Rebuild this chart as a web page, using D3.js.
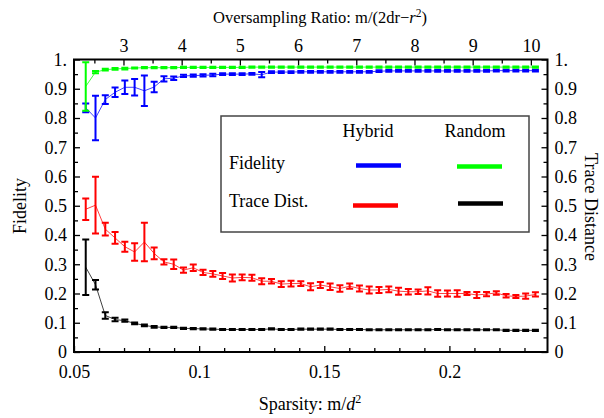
<!DOCTYPE html>
<html>
<head>
<meta charset="utf-8">
<script src="https://cdn.jsdelivr.net/npm/d3@7"></script>
<style>
body { margin: 0; background: #fff; }
text { font-family: "Liberation Serif", "Times New Roman", serif; }
</style>
</head>
<body>
<script>
// number of measurements m, sparsity is m/dim^2
const dim = 16;
const mValues = [14, 15, 16, 17, 18, 19, 20, 21, 22, 23, 24, 25, 26, 27, 28, 29, 30, 31, 32, 33,
   34, 35, 36, 37, 38, 39, 40, 41, 42, 43, 44, 45, 46, 47, 48, 49, 50, 51, 52, 53,
   54, 55, 56, 57, 58, 59, 60];

const hybridFid = [0.835, 0.800, 0.863, 0.888, 0.905, 0.905, 0.893, 0.906, 0.934, 0.936,
   0.944, 0.945, 0.946, 0.947, 0.950, 0.950, 0.950, 0.951, 0.948, 0.957,
   0.957, 0.957, 0.958, 0.958, 0.958, 0.958, 0.958, 0.958, 0.958, 0.958,
   0.960, 0.961, 0.961, 0.961, 0.961, 0.961, 0.961, 0.961, 0.961, 0.961,
   0.961, 0.961, 0.962, 0.962, 0.962, 0.962, 0.962];
const hybridFidErr = [0.015, 0.076, 0.015, 0.016, 0.023, 0.028, 0.052, 0.018, 0.009, 0.006,
   0.004, 0.004, 0.004, 0.004, 0.003, 0.003, 0.003, 0.003, 0.009, 0.003,
   0.003, 0.003, 0.003, 0.003, 0.003, 0.003, 0.003, 0.003, 0.003, 0.003,
   0.003, 0.003, 0.003, 0.003, 0.003, 0.003, 0.003, 0.003, 0.003, 0.003,
   0.003, 0.003, 0.003, 0.003, 0.003, 0.003, 0.003];

const randomFid = [0.908, 0.957, 0.965, 0.968, 0.969, 0.971, 0.972, 0.972, 0.972, 0.972,
   0.973, 0.973, 0.973, 0.973, 0.973, 0.973, 0.973, 0.974, 0.974, 0.974,
   0.974, 0.974, 0.974, 0.974, 0.974, 0.974, 0.974, 0.974, 0.974, 0.974,
   0.974, 0.974, 0.974, 0.974, 0.974, 0.974, 0.974, 0.974, 0.974, 0.974,
   0.974, 0.974, 0.974, 0.974, 0.974, 0.974, 0.974];
const randomFidErr = [0.083, 0.004, 0.003, 0.003, 0.003, 0.002, 0.002, 0.002, 0.002, 0.002,
   0.002, 0.002, 0.002, 0.002, 0.002, 0.002, 0.002, 0.002, 0.002, 0.002,
   0.002, 0.002, 0.002, 0.002, 0.002, 0.002, 0.002, 0.002, 0.002, 0.002,
   0.002, 0.002, 0.002, 0.002, 0.002, 0.002, 0.002, 0.002, 0.002, 0.002,
   0.002, 0.002, 0.002, 0.002, 0.002, 0.002, 0.002];

const hybridTD = [0.488, 0.502, 0.420, 0.390, 0.360, 0.342, 0.376, 0.337, 0.308, 0.300,
   0.280, 0.288, 0.272, 0.267, 0.260, 0.253, 0.255, 0.254, 0.242, 0.242,
   0.232, 0.234, 0.234, 0.223, 0.229, 0.223, 0.217, 0.225, 0.217, 0.212,
   0.212, 0.214, 0.208, 0.206, 0.206, 0.209, 0.200, 0.200, 0.200, 0.200,
   0.195, 0.198, 0.202, 0.192, 0.190, 0.191, 0.197];
const hybridTDErr = [0.037, 0.097, 0.022, 0.020, 0.017, 0.030, 0.066, 0.020, 0.009, 0.016,
   0.009, 0.011, 0.009, 0.010, 0.010, 0.012, 0.010, 0.010, 0.010, 0.008,
   0.010, 0.010, 0.008, 0.012, 0.010, 0.011, 0.011, 0.009, 0.010, 0.012,
   0.010, 0.010, 0.012, 0.009, 0.008, 0.012, 0.011, 0.010, 0.011, 0.005,
   0.010, 0.007, 0.006, 0.006, 0.005, 0.009, 0.007];

const randomTD = [0.290, 0.230, 0.125, 0.111, 0.107, 0.098, 0.091, 0.086, 0.084, 0.084,
   0.081, 0.080, 0.079, 0.078, 0.077, 0.077, 0.077, 0.077, 0.077, 0.079,
   0.077, 0.077, 0.078, 0.078, 0.078, 0.078, 0.077, 0.077, 0.077, 0.076,
   0.076, 0.076, 0.076, 0.076, 0.076, 0.076, 0.077, 0.076, 0.076, 0.076,
   0.076, 0.076, 0.076, 0.074, 0.074, 0.074, 0.074];
const randomTDErr = [0.095, 0.016, 0.011, 0.006, 0.004, 0.003, 0.003, 0.003, 0.002, 0.002,
   0.002, 0.002, 0.002, 0.002, 0.002, 0.002, 0.002, 0.002, 0.002, 0.002,
   0.002, 0.002, 0.002, 0.002, 0.002, 0.002, 0.002, 0.002, 0.002, 0.002,
   0.002, 0.002, 0.002, 0.002, 0.002, 0.002, 0.002, 0.002, 0.002, 0.002,
   0.002, 0.002, 0.002, 0.002, 0.002, 0.002, 0.002];

const xMajor = [0.05, 0.1, 0.15, 0.2];
const yMajor = [0, 0.1, 0.2, 0.3, 0.4, 0.5, 0.6, 0.7, 0.8, 0.9, 1];
const topMajor = [3, 4, 5, 6, 7, 8, 9, 10];
// oversampling ratio per unit sparsity
const ratioFactor = 43;

const w = 604;
const h = 418;
const pLeft = 74, pRight = 547.5, pTop = 59.5, pBottom = 352;
const font = '"Liberation Serif", "Times New Roman", serif';

const sparsity = mValues.map(v => v / (dim * dim));

const svg = d3.select('body')
   .append('svg')
   .attr('width', w)
   .attr('height', h);

const x = d3.scaleLinear().domain([0.05, 0.2392]).range([pLeft, pRight]);
const xTop = d3.scaleLinear()
   .domain([0.05 * ratioFactor, 0.2392 * ratioFactor])
   .range([pLeft, pRight]);
const y = d3.scaleLinear().domain([0, 1]).range([pBottom, pTop]);

function styleAxis(g) {
   g.select('.domain').remove();
   g.selectAll('line').attr('stroke', '#000').attr('stroke-width', 1.3);
   g.selectAll('text').attr('font-family', font).attr('font-size', 18).attr('fill', '#000');
}

const yFmt = v => (v === 0 ? '0' : v === 1 ? '1.' : v.toFixed(1));

// minor ticks
const xMinor = d3.range(6, 24).map(v => v / 100).filter(v => !xMajor.some(t => Math.abs(t - v) < 1e-9));
const yMinor = d3.range(1, 20, 2).map(v => v / 20);
const topMinor = d3.range(2.5, 10.3, 1);

svg.append('g')
   .attr('transform', `translate(0,${pBottom})`)
   .call(d3.axisBottom(x).tickValues(xMinor).tickSize(-4).tickFormat(''))
   .call(styleAxis);
svg.append('g')
   .attr('transform', `translate(0,${pBottom})`)
   .call(d3.axisBottom(x).tickValues(xMajor).tickSize(-6).tickPadding(13).tickFormat(v => String(v)))
   .call(styleAxis);

svg.append('g')
   .attr('transform', `translate(0,${pTop})`)
   .call(d3.axisTop(xTop).tickValues(topMinor).tickSize(-4).tickFormat(''))
   .call(styleAxis);
svg.append('g')
   .attr('transform', `translate(0,${pTop})`)
   .call(d3.axisTop(xTop).tickValues(topMajor).tickSize(-6).tickPadding(8).tickFormat(v => String(v)))
   .call(styleAxis);

svg.append('g')
   .attr('transform', `translate(${pLeft},0)`)
   .call(d3.axisLeft(y).tickValues(yMinor).tickSize(-4).tickFormat(''))
   .call(styleAxis);
svg.append('g')
   .attr('transform', `translate(${pLeft},0)`)
   .call(d3.axisLeft(y).tickValues(yMajor).tickSize(-6).tickPadding(7).tickFormat(yFmt))
   .call(styleAxis);

svg.append('g')
   .attr('transform', `translate(${pRight},0)`)
   .call(d3.axisRight(y).tickValues(yMinor).tickSize(-4).tickFormat(''))
   .call(styleAxis);
svg.append('g')
   .attr('transform', `translate(${pRight},0)`)
   .call(d3.axisRight(y).tickValues(yMajor).tickSize(-6).tickPadding(7).tickFormat(yFmt))
   .call(styleAxis);

// frame
svg.append('rect')
   .attr('x', pLeft)
   .attr('y', pTop)
   .attr('width', pRight - pLeft)
   .attr('height', pBottom - pTop)
   .attr('fill', 'none')
   .attr('stroke', '#000')
   .attr('stroke-width', 2);

// series
const series = [
   { vals: hybridFid, err: hybridFidErr, color: '#0000ff' },
   { vals: randomFid, err: randomFidErr, color: '#00ff00' },
   { vals: hybridTD, err: hybridTDErr, color: '#ff0000' },
   { vals: randomTD, err: randomTDErr, color: '#000000' }
];

const line = d3.line()
   .x((v, i) => x(sparsity[i]))
   .y(v => y(v));

series.forEach(s => {
   const g = svg.append('g');
   g.append('path')
      .attr('d', line(s.vals))
      .attr('fill', 'none')
      .attr('stroke', s.color)
      .attr('stroke-opacity', 0.75)
      .attr('stroke-width', 1);
   g.selectAll('path.err')
      .data(s.vals)
      .enter()
      .append('path')
      .attr('class', 'err')
      .attr('d', (v, i) => {
         const cx = x(sparsity[i]);
         const y1 = y(v + s.err[i]);
         const y2 = y(v - s.err[i]);
         return `M${cx - 3.5},${y1}H${cx + 3.5}M${cx},${y1}V${y2}M${cx - 3.5},${y2}H${cx + 3.5}`;
      })
      .attr('fill', 'none')
      .attr('stroke', s.color)
      .attr('stroke-width', 2);
});

// legend
const leg = svg.append('g');
leg.append('rect')
   .attr('x', 221)
   .attr('y', 116)
   .attr('width', 308)
   .attr('height', 116)
   .attr('fill', '#fff')
   .attr('stroke', '#444')
   .attr('stroke-width', 1.5);
const legText = [
   { t: 'Hybrid', x: 368, y: 137, a: 'middle' },
   { t: 'Random', x: 475, y: 137, a: 'middle' },
   { t: 'Fidelity', x: 229, y: 169, a: 'start' },
   { t: 'Trace Dist.', x: 229, y: 207, a: 'start' }
];
leg.selectAll('text')
   .data(legText)
   .enter()
   .append('text')
   .attr('x', e => e.x)
   .attr('y', e => e.y)
   .attr('text-anchor', e => e.a)
   .attr('font-size', 18)
   .text(e => e.t);
const swatches = [
   { x1: 356, x2: 401, y: 165.5, c: '#0000ff' },
   { x1: 457, x2: 502, y: 166.5, c: '#00ff00' },
   { x1: 353, x2: 398, y: 205.5, c: '#ff0000' },
   { x1: 458, x2: 503, y: 203.5, c: '#000000' }
];
leg.selectAll('line')
   .data(swatches)
   .enter()
   .append('line')
   .attr('x1', e => e.x1)
   .attr('x2', e => e.x2)
   .attr('y1', e => e.y)
   .attr('y2', e => e.y)
   .attr('stroke', e => e.c)
   .attr('stroke-width', 4.5);

// axis titles
const topTitle = svg.append('text')
   .attr('x', 320)
   .attr('y', 23)
   .attr('text-anchor', 'middle')
   .attr('font-size', 16.5);
topTitle.append('tspan').text('Oversampling Ratio: m/(2dr\u2212');
topTitle.append('tspan').attr('font-style', 'italic').text('r');
topTitle.append('tspan').attr('dy', -6).attr('font-size', 11.5).text('2');
topTitle.append('tspan').attr('dy', 6).text(')');

const botTitle = svg.append('text')
   .attr('x', 310)
   .attr('y', 410)
   .attr('text-anchor', 'middle')
   .attr('font-size', 18);
botTitle.append('tspan').text('Sparsity: m/');
botTitle.append('tspan').attr('font-style', 'italic').text('d');
botTitle.append('tspan').attr('dy', -7).attr('font-size', 12).text('2');

svg.append('text')
   .attr('transform', 'translate(26,206) rotate(-90)')
   .attr('text-anchor', 'middle')
   .attr('font-size', 18)
   .text('Fidelity');

svg.append('text')
   .attr('transform', 'translate(585,207) rotate(90)')
   .attr('text-anchor', 'middle')
   .attr('font-size', 18)
   .text('Trace Distance');
</script>
</body>
</html>
